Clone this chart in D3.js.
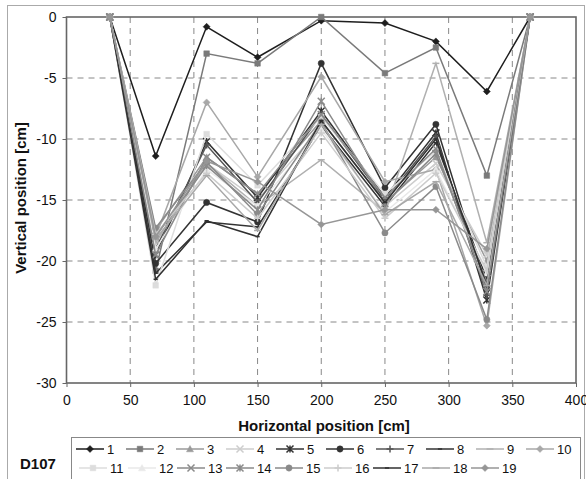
<!DOCTYPE html>
<html lang="en">
<head>
  <meta charset="UTF-8" />
  <title>D107 vertical position</title>
  <style>
    body {
      margin: 0;
      background: #fff;
    }
    svg text {
      font-family: "Liberation Sans", Arial, sans-serif;
      fill: #111;
    }
  </style>
</head>
<body>
  <div id="chart"></div>

  <script src="https://d3js.org/d3.v7.min.js"></script>
  <script>
    // horizontal positions of the measuring points [cm]
    const xPos = [34, 70, 110, 150, 200, 250, 290, 330, 364];

    // one array per measurement (vertical position, cm)
    const s1  = [0, -11.4, -0.8, -3.3, -0.3, -0.5, -2.0, -6.1, 0];
    const s2  = [0, -20.8, -3.0, -3.8, 0.0, -4.6, -2.5, -13.0, 0];
    const s3  = [0, -17.5, -11.5, -14.5, -8.5, -15.2, -11.5, -20.0, 0];
    const s4  = [0, -18.5, -12.0, -15.0, -9.0, -15.5, -12.0, -19.5, 0];
    const s5  = [0, -19.5, -10.2, -14.8, -7.7, -14.8, -9.5, -23.2, 0];
    const s6  = [0, -20.2, -15.2, -16.8, -3.8, -14.0, -8.8, -22.3, 0];
    const s7  = [0, -19.0, -10.5, -15.2, -8.0, -15.0, -9.8, -22.8, 0];
    const s8  = [0, -21.0, -16.8, -17.2, -8.9, -15.5, -10.3, -21.5, 0];
    const s9  = [0, -18.5, -12.0, -15.5, -11.7, -16.0, -3.8, -18.5, 0];
    const s10 = [0, -18.0, -7.0, -13.1, -4.9, -13.5, -12.5, -25.3, 0];
    const s11 = [0, -22.0, -9.6, -13.8, -8.2, -14.5, -11.0, -20.5, 0];
    const s12 = [0, -19.0, -12.5, -15.5, -9.2, -16.0, -12.5, -21.0, 0];
    const s13 = [0, -19.5, -11.5, -14.5, -8.0, -14.8, -10.8, -22.5, 0];
    const s14 = [0, -18.0, -12.2, -15.8, -6.9, -15.3, -11.2, -21.8, 0];
    const s15 = [0, -17.3, -11.9, -16.2, -8.6, -17.7, -13.9, -24.8, 0];
    const s16 = [0, -17.8, -12.8, -16.5, -9.5, -16.5, -12.8, -20.8, 0];
    const s17 = [0, -21.5, -16.7, -18.0, -8.5, -15.2, -10.0, -22.0, 0];
    const s18 = [0, -18.2, -13.0, -17.5, -8.8, -16.2, -13.5, -22.0, 0];
    const s19 = [0, -18.0, -11.8, -13.5, -17.0, -15.8, -15.8, -19.0, 0];

    const seriesNames = ["1","2","3","4","5","6","7","8","9","10",
                         "11","12","13","14","15","16","17","18","19"];
    const seriesValues = [s1, s2, s3, s4, s5, s6, s7, s8, s9, s10,
                          s11, s12, s13, s14, s15, s16, s17, s18, s19];
    const seriesMarkers = ["diamond","square","triangle","x","star","circle","plus","dash","longdash","diamond",
                           "square","triangle","x","star","circle","plus","dash","longdash","diamond"];
    const seriesColors = ["#1e1e1e","#7a7a7a","#9a9a9a","#cdcdcd","#333333","#333333","#555555","#333333","#b0b0b0","#a8a8a8",
                          "#dddddd","#e8e8e8","#8a8a8a","#8a8a8a","#8a8a8a","#cccccc","#303030","#a8a8a8","#969696"];

    const xTicks = [0, 50, 100, 150, 200, 250, 300, 350, 400];
    const yTicks = [0, -5, -10, -15, -20, -25, -30];

    const W = 586, H = 479;
    const svg = d3.select("#chart").append("svg")
      .attr("width", W).attr("height", H);

    // chart frame
    svg.append("rect")
      .attr("x", 7.5).attr("y", 5.5)
      .attr("width", 577).attr("height", 480)
      .attr("fill", "none").attr("stroke", "#aaa");

    const x = d3.scaleLinear().domain([0, 400]).range([66.5, 576]);
    const y = d3.scaleLinear().domain([-30, 0]).range([383, 17]);

    // grid
    svg.append("g").selectAll("line").data(xTicks.slice(1, -1)).enter().append("line")
      .attr("x1", d => x(d)).attr("x2", d => x(d))
      .attr("y1", y(0)).attr("y2", y(-30))
      .attr("stroke", "#888").attr("stroke-dasharray", "6,5");
    svg.append("g").selectAll("line").data(yTicks.slice(1, -1)).enter().append("line")
      .attr("x1", x(0)).attr("x2", x(400))
      .attr("y1", d => y(d)).attr("y2", d => y(d))
      .attr("stroke", "#888").attr("stroke-dasharray", "6,5");

    // axes (plain hyphen for negatives, like the original)
    const xAxis = svg.append("g")
      .attr("transform", `translate(0,${y(-30)})`)
      .call(d3.axisBottom(x).tickValues(xTicks).tickFormat(d => String(d)).tickSize(4).tickPadding(8));
    const yAxis = svg.append("g")
      .attr("transform", `translate(${x(0)},0)`)
      .call(d3.axisLeft(y).tickValues(yTicks).tickFormat(d => String(d)).tickSize(4).tickPadding(6));
    [xAxis, yAxis].forEach(a => {
      a.select(".domain").remove();
      a.selectAll("line").attr("stroke", "#666");
      a.selectAll("text").style("font-size", "14px").attr("fill", "#111");
    });

    // plot border
    svg.append("rect")
      .attr("x", x(0)).attr("y", y(0))
      .attr("width", x(400) - x(0)).attr("height", y(-30) - y(0))
      .attr("fill", "none").attr("stroke", "#666").attr("stroke-width", 1.6);

    function markerPath(type, s) {
      switch (type) {
        case "diamond": return `M0,${-s}L${s},0L0,${s}L${-s},0Z`;
        case "square": return `M${-s*0.8},${-s*0.8}h${s*1.6}v${s*1.6}h${-s*1.6}Z`;
        case "triangle": return `M0,${-s}L${s},${s*0.8}L${-s},${s*0.8}Z`;
        case "circle": return d3.symbol(d3.symbolCircle, Math.PI * s * s * 0.8)();
        case "x": return `M${-s},${-s}L${s},${s}M${-s},${s}L${s},${-s}`;
        case "star": return `M${-s},${-s}L${s},${s}M${-s},${s}L${s},${-s}M0,${-s}V${s}`;
        case "plus": return `M${-s},0H${s}M0,${-s}V${s}`;
        case "dash": return `M${-s*0.6},0H${s*0.6}`;
        case "longdash": return `M${-s},0H${s}`;
      }
    }
    const filled = t => ["diamond", "square", "triangle", "circle"].includes(t);

    const line = d3.line().x((d, i) => x(xPos[i])).y(d => y(d));

    seriesValues.forEach((vals, k) => {
      const g = svg.append("g");
      const col = seriesColors[k], mk = seriesMarkers[k];
      g.append("path").datum(vals)
        .attr("d", line)
        .attr("fill", "none").attr("stroke", col).attr("stroke-width", 1.5);
      g.selectAll("path.m").data(vals).enter().append("path")
        .attr("class", "m")
        .attr("transform", (d, i) => `translate(${x(xPos[i])},${y(d)})`)
        .attr("d", markerPath(mk, 3.5))
        .attr("fill", filled(mk) ? col : "none")
        .attr("stroke", col).attr("stroke-width", filled(mk) ? 0.5 : 1.5);
    });

    // axis titles
    svg.append("text")
      .attr("x", 324).attr("y", 431)
      .attr("text-anchor", "middle")
      .style("font-size", "15px").style("font-weight", "bold")
      .text("Horizontal position [cm]");
    svg.append("text")
      .attr("transform", "translate(26,198) rotate(-90)")
      .attr("text-anchor", "middle")
      .style("font-size", "15px").style("font-weight", "bold")
      .text("Vertical position [cm]");

    // legend
    svg.append("rect")
      .attr("x", 71.5).attr("y", 437.5)
      .attr("width", 509).attr("height", 50)
      .attr("fill", "none").attr("stroke", "#888");
    svg.append("text")
      .attr("x", 20).attr("y", 469)
      .style("font-size", "15px").style("font-weight", "bold")
      .text("D107");

    seriesNames.forEach((name, k) => {
      const row = k < 10 ? 0 : 1;
      const col = k < 10 ? k : k - 10;
      const tx = row === 0 ? 107 + col * 50 : 110 + col * 49;
      const ty = row === 0 ? 449 : 468;
      const g = svg.append("g");
      g.append("line")
        .attr("x1", tx - 31).attr("x2", tx - 3)
        .attr("y1", ty).attr("y2", ty)
        .attr("stroke", seriesColors[k]).attr("stroke-width", 1.5);
      g.append("path")
        .attr("transform", `translate(${tx - 17},${ty})`)
        .attr("d", markerPath(seriesMarkers[k], 3.5))
        .attr("fill", filled(seriesMarkers[k]) ? seriesColors[k] : "none")
        .attr("stroke", seriesColors[k]).attr("stroke-width", filled(seriesMarkers[k]) ? 0.5 : 1.5);
      g.append("text")
        .attr("x", tx).attr("y", ty + 5)
        .style("font-size", "13px").attr("fill", "#333")
        .text(name);
    });
  </script>
</body>
</html>
